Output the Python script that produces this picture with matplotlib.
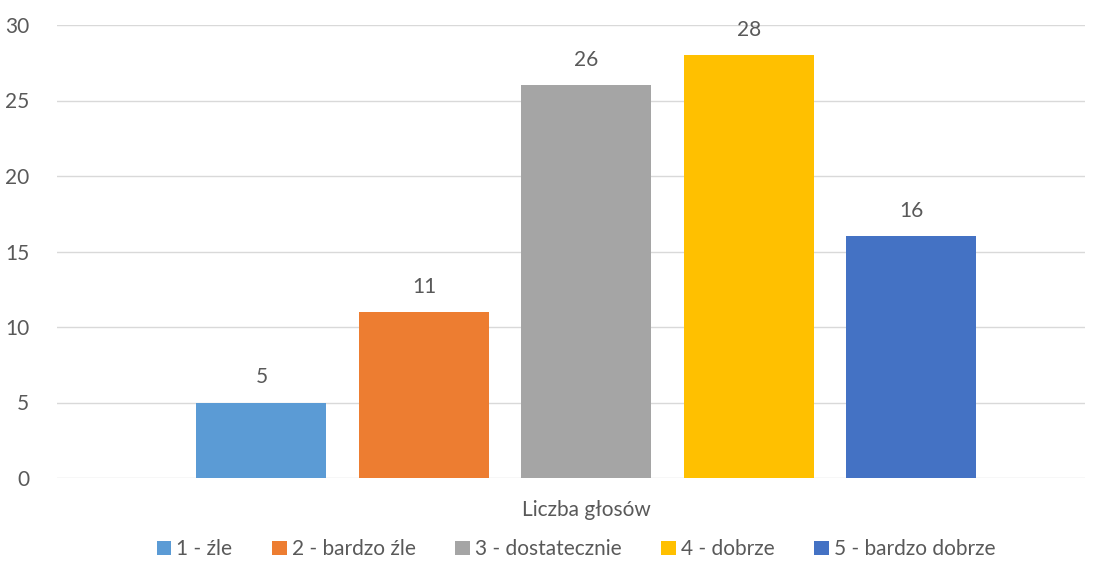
import matplotlib.pyplot as plt
import numpy as np

# data
categories = ["1 - źle", "2 - bardzo źle", "3 - dostatecznie", "4 - dobrze", "5 - bardzo dobrze"]
votes = [5, 11, 26, 28, 16]
colors = ["#5B9BD5", "#ED7D31", "#A5A5A5", "#FFC000", "#4472C4"]
group_label = "Liczba głosów"

plt.rcParams['font.family'] = ['Lato', 'DejaVu Sans']
txt = "#595959"
fs = 15

fig = plt.figure(figsize=(11.06, 5.70), dpi=100)
ax = fig.add_axes([57/1106, 92/570, (1085-57)/1106, (478-25)/570])

x = np.arange(len(categories))
bars = ax.bar(x, votes, width=0.8, color=colors, label=categories, zorder=3)
for xi, v in zip(x, votes):
    ax.text(xi, v + 1.0, str(v), ha='center', va='bottom', fontsize=fs, color=txt)

ax.set_ylim(0, 30)
ax.set_yticks(range(0, 31, 5))
ax.set_xlim(-1.258, 5.068)
ax.set_xticks([2])
ax.set_xticklabels([group_label])
ax.tick_params(axis='both', length=0, labelsize=fs, labelcolor=txt)
ax.tick_params(axis='x', pad=16)
ax.tick_params(axis='y', pad=20)
ax.grid(axis='y', color='#D9D9D9', linewidth=1, zorder=0)
for s in ax.spines.values():
    s.set_visible(False)

leg = ax.legend(handles=bars, labels=categories, loc='center', bbox_to_anchor=(0.505, -0.157),
                ncol=5, frameon=False, fontsize=fs, handlelength=0.7, handleheight=0.7,
                handletextpad=0.25, columnspacing=1.9, labelcolor=txt)

plt.savefig("out.png", dpi=100)
